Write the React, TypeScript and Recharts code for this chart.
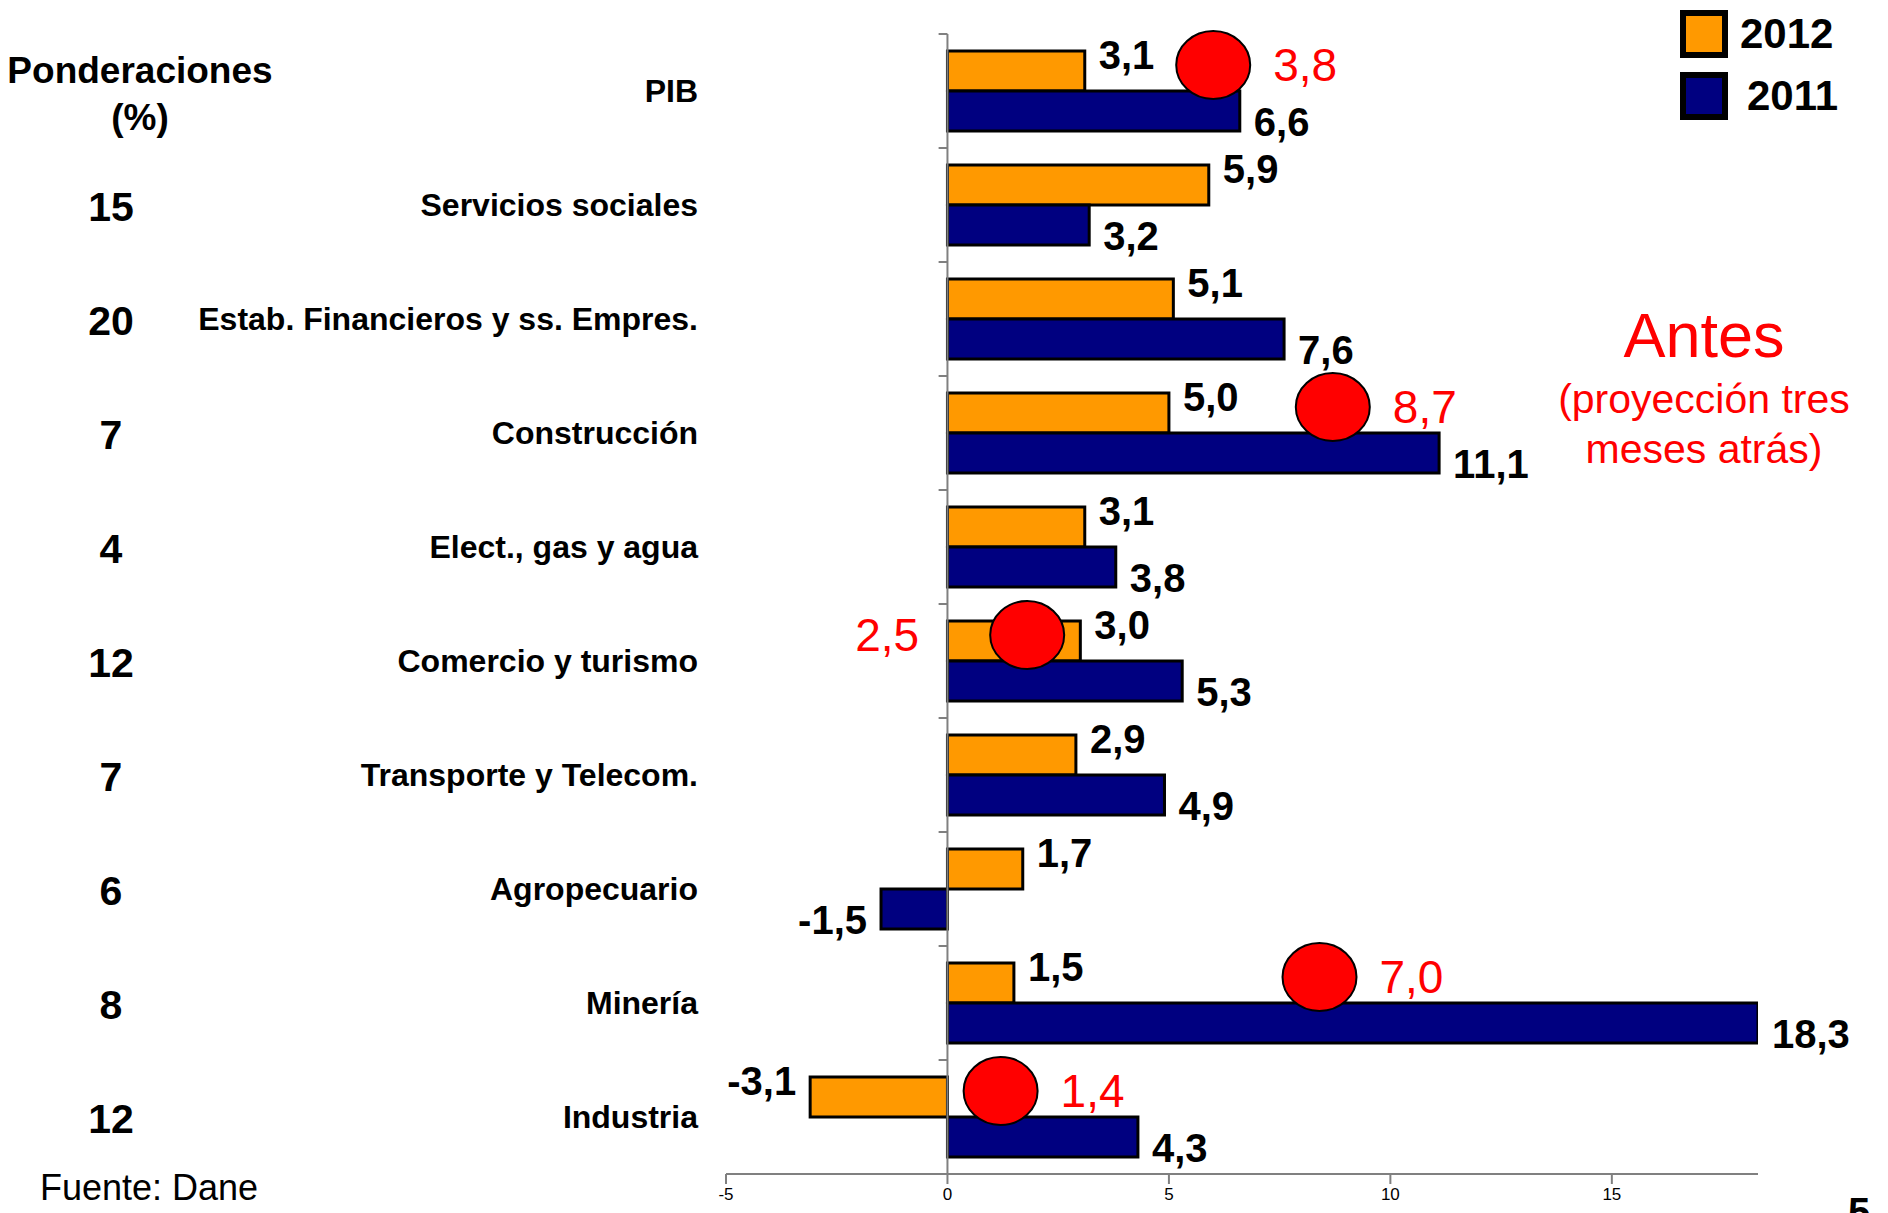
import React from 'react';
import { BarChart, Bar, XAxis, YAxis, ReferenceLine, ReferenceDot, LabelList } from 'recharts';

const categories = [
  'PIB', 'Servicios sociales', 'Estab. Financieros y ss. Empres.', 'Construcción',
  'Elect., gas y agua', 'Comercio y turismo', 'Transporte y Telecom.', 'Agropecuario',
  'Minería', 'Industria'
];
const weights = [null, 15, 20, 7, 4, 12, 7, 6, 8, 12];
const values2012 = [3.1, 5.9, 5.1, 5.0, 3.1, 3.0, 2.9, 1.7, 1.5, -3.1];
const values2011 = [6.6, 3.2, 7.6, 11.1, 3.8, 5.3, 4.9, -1.5, 18.3, 4.3];
const xTicks = [-5, 0, 5, 10, 15];

// proyección de tres meses atrás (círculos rojos)
const prevCategories = ['PIB', 'Construcción', 'Comercio y turismo', 'Minería', 'Industria'];
const prevValues = [3.8, 8.7, 2.5, 7.0, 1.4];
const prevMarkerX = [6.0, 8.7, 1.8, 8.4, 1.2];
const prevLabelLeft = [false, false, true, false, false];

const FONT = "'Liberation Sans', Arial, sans-serif";
const ORANGE = '#FF9900';
const NAVY = '#000080';

const data = categories.map((name, i) => ({ name, y2012: values2012[i], y2011: values2011[i] }));

const fmt = (v: number) => v.toFixed(1).replace('.', ',');

const CategoryTick = (props: any) => {
  const { y, payload } = props;
  const i = categories.indexOf(payload.value);
  const w = weights[i];
  return (
    <g fontFamily={FONT} fontWeight="bold" fill="#000">
      <text x={698} y={y} textAnchor="end" dominantBaseline="central" fontSize={32}>
        {payload.value}
      </text>
      {w != null ? (
        <text x={111} y={y + 2} textAnchor="middle" dominantBaseline="central" fontSize={41}>{w}</text>
      ) : (
        <>
          <text x={140} y={y - 21} textAnchor="middle" dominantBaseline="central" fontSize={37}>Ponderaciones</text>
          <text x={140} y={y + 26} textAnchor="middle" dominantBaseline="central" fontSize={37}>(%)</text>
        </>
      )}
    </g>
  );
};

const makeLabel = (top: boolean) => (props: any) => {
  const { x, y, width, height, value } = props;
  const left = Math.min(x, x + width);
  const right = Math.max(x, x + width);
  const neg = value < 0;
  const ty = top ? y + 4 : y + height - 9;
  return (
    <text
      x={neg ? left - 14 : right + 14}
      y={ty}
      textAnchor={neg ? 'end' : 'start'}
      dominantBaseline="central"
      fontSize={40}
      fontWeight="bold"
      fontFamily={FONT}
      fill="#000"
    >
      {fmt(value)}
    </text>
  );
};

const makeMarker = (i: number) => (props: any) => {
  const { cx, cy } = props;
  const ey = cy - 26;
  const left = prevLabelLeft[i];
  return (
    <g>
      <ellipse cx={cx} cy={ey} rx={37} ry={34} fill="#FF0000" stroke="#000" strokeWidth={2} />
      <text
        x={left ? cx - 108 : cx + 60}
        y={ey}
        textAnchor={left ? 'end' : 'start'}
        dominantBaseline="central"
        fontSize={46}
        fontFamily={FONT}
        fill="#FF0000"
      >
        {fmt(prevValues[i])}
      </text>
    </g>
  );
};

const LegendBox = ({ color, label, top, left }: { color: string; label: string; top: number; left: number }) => (
  <div style={{ position: 'absolute', top, left: 1680, display: 'flex', alignItems: 'center' }}>
    <div style={{ width: 36, height: 36, border: '6px solid #000', background: color }} />
    <span style={{ marginLeft: left, fontSize: 42, fontWeight: 'bold', fontFamily: FONT }}>{label}</span>
  </div>
);

export default function App() {
  return (
    <div style={{ position: 'absolute', left: 0, top: 0, width: 1888, height: 1213, overflow: 'hidden', background: '#fff', fontFamily: FONT }}>
      <BarChart
        width={1888}
        height={1213}
        data={data}
        layout="vertical"
        margin={{ top: 34, right: 130, bottom: 9, left: 0 }}
        barSize={40}
        barGap={0}
      >
        <XAxis
          type="number"
          domain={[-5, 18.3]}
          ticks={xTicks}
          allowDataOverflow
          axisLine={{ stroke: '#808080', strokeWidth: 2 }}
          tickLine={{ stroke: '#808080', strokeWidth: 2 }}
          tickSize={10}
          tickMargin={4}
          tick={{ fontSize: 17, fill: '#000', fontFamily: FONT }}
        />
        <YAxis
          type="category"
          dataKey="name"
          width={726}
          axisLine={false}
          tickLine={false}
          interval={0}
          tick={<CategoryTick />}
        />
        <ReferenceLine x={0} stroke="#808080" strokeWidth={2} />
        {categories.map((c) => (
          <ReferenceLine
            key={`t-${c}`}
            segment={[{ x: -0.2, y: c }, { x: 0, y: c }]}
            position="start"
            stroke="#808080"
            strokeWidth={2}
          />
        ))}
        <ReferenceLine
          segment={[{ x: -0.2, y: categories[categories.length - 1] }, { x: 0, y: categories[categories.length - 1] }]}
          position="end"
          stroke="#808080"
          strokeWidth={2}
        />
        <Bar dataKey="y2012" fill={ORANGE} stroke="#000" strokeWidth={3} isAnimationActive={false}>
          <LabelList dataKey="y2012" content={makeLabel(true)} />
        </Bar>
        <Bar dataKey="y2011" fill={NAVY} stroke="#000" strokeWidth={3} isAnimationActive={false}>
          <LabelList dataKey="y2011" content={makeLabel(false)} />
        </Bar>
        {prevCategories.map((c, i) => (
          <ReferenceDot key={`p-${c}`} x={prevMarkerX[i]} y={c} r={37} shape={makeMarker(i)} />
        ))}
      </BarChart>

      <LegendBox color={ORANGE} label="2012" top={10} left={12} />
      <LegendBox color={NAVY} label="2011" top={72} left={19} />

      <div style={{ position: 'absolute', left: 1504, width: 400, top: 300, textAlign: 'center', color: '#FF0000' }}>
        <div style={{ fontSize: 63, lineHeight: '70px' }}>Antes</div>
        <div style={{ fontSize: 41, lineHeight: '50px', marginTop: 4 }}>(proyección tres</div>
        <div style={{ fontSize: 41, lineHeight: '50px' }}>meses atrás)</div>
      </div>

      <div style={{ position: 'absolute', left: 40, top: 1168, fontSize: 36, lineHeight: '40px' }}>Fuente: Dane</div>
      <div style={{ position: 'absolute', left: 1848, top: 1190, fontSize: 40, fontWeight: 'bold', lineHeight: '44px' }}>5</div>
    </div>
  );
}
